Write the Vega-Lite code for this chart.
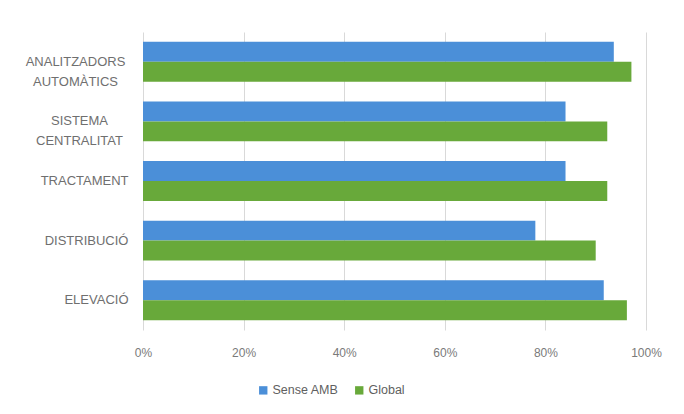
{
  "$schema": "https://vega.github.io/schema/vega-lite/v6.json",
  "width": 503,
  "height": 298,
  "autosize": {"type": "none"},
  "padding": {"left": 143, "top": 32, "right": 38, "bottom": 84},
  "background": "#ffffff",
  "data": {
    "values": [
      {"area": "ANALITZADORS AUTOMÀTICS", "serie": "Sense AMB", "pct": 0.936},
      {"area": "ANALITZADORS AUTOMÀTICS", "serie": "Global", "pct": 0.971},
      {"area": "SISTEMA CENTRALITAT", "serie": "Sense AMB", "pct": 0.84},
      {"area": "SISTEMA CENTRALITAT", "serie": "Global", "pct": 0.923},
      {"area": "TRACTAMENT", "serie": "Sense AMB", "pct": 0.84},
      {"area": "TRACTAMENT", "serie": "Global", "pct": 0.923},
      {"area": "DISTRIBUCIÓ", "serie": "Sense AMB", "pct": 0.78},
      {"area": "DISTRIBUCIÓ", "serie": "Global", "pct": 0.90},
      {"area": "ELEVACIÓ", "serie": "Sense AMB", "pct": 0.916},
      {"area": "ELEVACIÓ", "serie": "Global", "pct": 0.962}
    ]
  },
  "mark": {"type": "bar"},
  "encoding": {
    "y": {
      "field": "area",
      "type": "nominal",
      "sort": ["ANALITZADORS AUTOMÀTICS", "SISTEMA CENTRALITAT", "TRACTAMENT", "DISTRIBUCIÓ", "ELEVACIÓ"],
      "scale": {"paddingInner": 0.33, "paddingOuter": 0.165},
      "axis": {
        "title": null,
        "domain": false,
        "ticks": false,
        "grid": false,
        "labelPadding": {
          "condition": [
            {"test": "datum.value === 'ANALITZADORS AUTOMÀTICS'", "value": 68},
            {"test": "datum.value === 'SISTEMA CENTRALITAT'", "value": 64}
          ],
          "value": 15
        },
        "labelAlign": {
          "condition": {"test": "indexof(datum.value, ' ') > 0", "value": "center"},
          "value": "right"
        },
        "labelFont": "Liberation Sans",
        "labelFontSize": 13,
        "labelColor": "#6f6f6f",
        "labelLineHeight": 20,
        "labelLimit": 200,
        "labelExpr": "split(datum.label, ' ')"
      }
    },
    "yOffset": {
      "field": "serie",
      "type": "nominal",
      "sort": ["Sense AMB", "Global"],
      "scale": {"paddingInner": 0, "paddingOuter": 0}
    },
    "x": {
      "field": "pct",
      "type": "quantitative",
      "scale": {"domain": [0, 1], "nice": false},
      "axis": {
        "title": null,
        "format": "%",
        "values": [0, 0.2, 0.4, 0.6, 0.8, 1],
        "domain": false,
        "ticks": false,
        "grid": true,
        "gridColor": "#d9d9d9",
        "gridWidth": 1,
        "labelPadding": 17,
        "labelFont": "Liberation Sans",
        "labelFontSize": 12,
        "labelColor": "#7a7a7a",
        "labelFlush": false
      }
    },
    "color": {
      "field": "serie",
      "type": "nominal",
      "sort": ["Sense AMB", "Global"],
      "scale": {"domain": ["Sense AMB", "Global"], "range": ["#4b8fd8", "#68a93a"]},
      "legend": {
        "title": null,
        "orient": "none",
        "direction": "horizontal",
        "legendX": 114,
        "legendY": 352,
        "symbolType": "square",
        "symbolSize": 70,
        "symbolStrokeWidth": 0,
        "labelFont": "Liberation Sans",
        "labelFontSize": 12.5,
        "labelColor": "#5f5f5f",
        "labelOffset": 3,
        "columnPadding": 14
      }
    }
  },
  "config": {
    "view": {"stroke": null}
  }
}
